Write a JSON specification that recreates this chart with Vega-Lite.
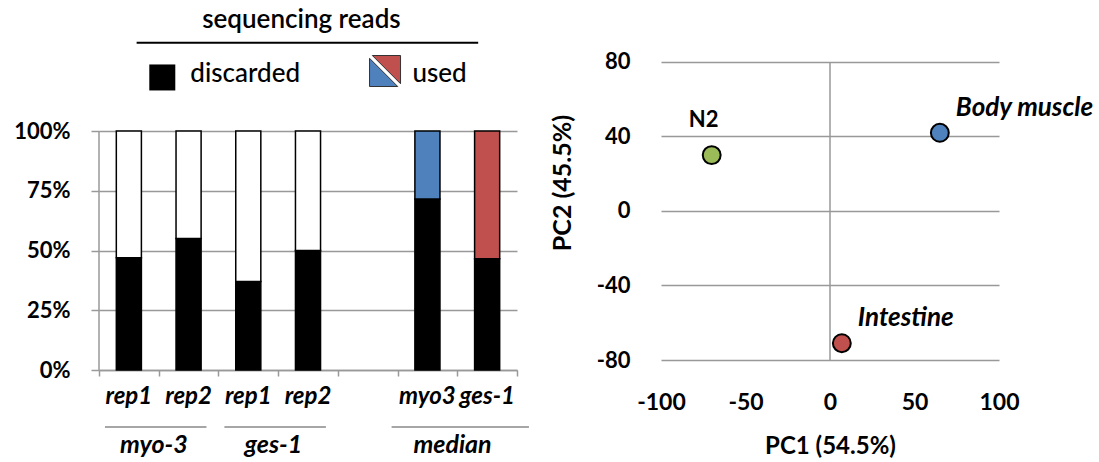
{
  "$schema": "https://vega.github.io/schema/vega-lite/v6.json",
  "autosize": {"type": "pad"},
  "padding": {"left": 13, "top": 5, "right": 0, "bottom": 0},
  "spacing": 20,
  "resolve": {"scale": {"fill": "independent", "x": "independent", "y": "independent"}},
  "config": {
    "font": "Lato",
    "view": {"stroke": null},
    "axis": {"labelColor": "#000000", "titleColor": "#000000", "labelFont": "Lato", "titleFont": "Lato"}
  },
  "datasets": {
    "reads": [
      {"cat": "myo-3|rep1", "part": "discarded", "pct": 0.47},
      {"cat": "myo-3|rep1", "part": "remaining", "pct": 0.53},
      {"cat": "myo-3|rep2", "part": "discarded", "pct": 0.55},
      {"cat": "myo-3|rep2", "part": "remaining", "pct": 0.45},
      {"cat": "ges-1|rep1", "part": "discarded", "pct": 0.37},
      {"cat": "ges-1|rep1", "part": "remaining", "pct": 0.63},
      {"cat": "ges-1|rep2", "part": "discarded", "pct": 0.5},
      {"cat": "ges-1|rep2", "part": "remaining", "pct": 0.5},
      {"cat": "median|myo3", "part": "discarded", "pct": 0.715},
      {"cat": "median|myo3", "part": "used (myo-3)", "pct": 0.285},
      {"cat": "median|ges-1", "part": "discarded", "pct": 0.465},
      {"cat": "median|ges-1", "part": "used (ges-1)", "pct": 0.535}
    ],
    "pca": [
      {"sample": "N2", "pc1": -70, "pc2": 30},
      {"sample": "Body muscle", "pc1": 65, "pc2": 42},
      {"sample": "Intestine", "pc1": 7, "pc2": -71}
    ]
  },
  "hconcat": [
    {
      "width": 418,
      "height": 365,
      "layer": [
        {
          "data": {"name": "reads"},
          "mark": {"type": "bar", "width": {"band": 0.42}, "stroke": "#000000", "strokeWidth": 1.5},
          "encoding": {
            "x": {
              "field": "cat", "type": "nominal", "sort": null, "title": null,
              "scale": {"domain": ["myo-3|rep1", "myo-3|rep2", "ges-1|rep1", "ges-1|rep2", "blank|", "median|myo3", "median|ges-1"], "paddingInner": 0, "paddingOuter": 0},
              "axis": {"title": null, "labels": false, "domainColor": "#999999", "domainWidth": 1.5, "tickColor": "#999999", "tickWidth": 1.5, "tickSize": 6, "tickBand": "extent", "grid": false}
            },
            "y": {
              "field": "pct", "type": "quantitative", "stack": "zero", "title": null,
              "scale": {"domain": [0, 1.5272]},
              "axis": {"title": null, "format": ".0%", "values": [0, 0.25, 0.5, 0.75, 1], "labelFontSize": 22, "labelFontWeight": "bold", "labelPadding": 21, "grid": true, "gridColor": "#999999", "gridWidth": 1.5, "domain": false, "tickColor": "#999999", "tickWidth": 1.5, "tickSize": 8}
            },
            "fill": {"field": "part", "type": "nominal", "scale": {"domain": ["discarded", "remaining", "used (myo-3)", "used (ges-1)"], "range": ["#000000", "#ffffff", "#4F81BD", "#C0504D"]}, "legend": null},
            "order": {"field": "part", "sort": "ascending"}
          }
        },
        {
          "data": {"values": [
            {"cat": "myo-3|rep1", "label": "rep1"},
            {"cat": "myo-3|rep2", "label": "rep2"},
            {"cat": "ges-1|rep1", "label": "rep1"},
            {"cat": "ges-1|rep2", "label": "rep2"},
            {"cat": "median|myo3", "label": "myo3"},
            {"cat": "median|ges-1", "label": "ges-1"}
          ]},
          "mark": {"type": "text", "fontSize": 24, "fontWeight": "bold", "fontStyle": "italic", "align": "center", "baseline": "alphabetic", "color": "#000000"},
          "encoding": {
            "x": {"field": "cat", "type": "nominal", "title": null, "scale": {"domain": ["myo-3|rep1", "myo-3|rep2", "ges-1|rep1", "ges-1|rep2", "blank|", "median|myo3", "median|ges-1"], "paddingInner": 0, "paddingOuter": 0}},
            "y": {"datum": -0.142, "scale": {"domain": [0, 1.5272]}, "title": null},
            "text": {"field": "label"}
          }
        },
        {
          "data": {"values": [{"anchor": "myo-3|rep1"}]},
          "mark": {"type": "rule", "color": "#999999", "strokeWidth": 1.5},
          "encoding": {
            "x": {"field": "anchor", "type": "nominal", "bandPosition": 0, "title": null, "scale": {"domain": ["myo-3|rep1", "myo-3|rep2", "ges-1|rep1", "ges-1|rep2", "blank|", "median|myo3", "median|ges-1"], "paddingInner": 0, "paddingOuter": 0}},
            "y": {"datum": 0, "scale": {"domain": [0, 1.5272]}, "title": null},
            "y2": {"datum": 1}
          }
        },
        {
          "data": {"values": [{"group": "myo-3", "first": "myo-3|rep1", "last": "myo-3|rep2"}, {"group": "ges-1", "first": "ges-1|rep1", "last": "ges-1|rep2"}]},
          "mark": {"type": "rule", "color": "#a6a6a6", "strokeWidth": 2},
          "encoding": {
            "x": {"field": "first", "type": "nominal", "bandPosition": 0.1, "title": null, "scale": {"domain": ["myo-3|rep1", "myo-3|rep2", "ges-1|rep1", "ges-1|rep2", "blank|", "median|myo3", "median|ges-1"], "paddingInner": 0, "paddingOuter": 0}},
            "x2": {"field": "last", "bandPosition": 0.8},
            "y": {"datum": -0.2385, "scale": {"domain": [0, 1.5272]}, "title": null}
          }
        },
        {
          "data": {"values": [{"group": "median", "first": "blank|", "last": "median|ges-1"}]},
          "mark": {"type": "rule", "color": "#a6a6a6", "strokeWidth": 2},
          "encoding": {
            "x": {"field": "first", "type": "nominal", "bandPosition": 0.9, "title": null, "scale": {"domain": ["myo-3|rep1", "myo-3|rep2", "ges-1|rep1", "ges-1|rep2", "blank|", "median|myo3", "median|ges-1"], "paddingInner": 0, "paddingOuter": 0}},
            "x2": {"field": "last", "bandPosition": 1.2},
            "y": {"datum": -0.2385, "scale": {"domain": [0, 1.5272]}, "title": null}
          }
        },
        {
          "data": {"values": [{"group": "myo-3", "first": "myo-3|rep1"}, {"group": "ges-1", "first": "ges-1|rep1"}, {"group": "median", "first": "median|myo3"}]},
          "mark": {"type": "text", "fontSize": 25, "fontWeight": "bold", "fontStyle": "italic", "align": "center", "baseline": "alphabetic", "color": "#000000"},
          "encoding": {
            "x": {"field": "first", "type": "nominal", "bandPosition": 0.92, "title": null, "scale": {"domain": ["myo-3|rep1", "myo-3|rep2", "ges-1|rep1", "ges-1|rep2", "blank|", "median|myo3", "median|ges-1"], "paddingInner": 0, "paddingOuter": 0}},
            "y": {"datum": -0.347, "scale": {"domain": [0, 1.5272]}, "title": null},
            "text": {"field": "group"}
          }
        },
        {
          "data": {"values": [{"label": "sequencing reads", "anchor": "ges-1|rep2"}]},
          "mark": {"type": "text", "fontSize": 26, "fontWeight": 600, "align": "center", "baseline": "alphabetic", "color": "#000000"},
          "encoding": {
            "x": {"field": "anchor", "type": "nominal", "bandPosition": 0.39, "title": null, "scale": {"domain": ["myo-3|rep1", "myo-3|rep2", "ges-1|rep1", "ges-1|rep2", "blank|", "median|myo3", "median|ges-1"], "paddingInner": 0, "paddingOuter": 0}},
            "y": {"datum": 1.431, "scale": {"domain": [0, 1.5272]}, "title": null},
            "text": {"field": "label"}
          }
        },
        {
          "data": {"values": [{"from": "myo-3|rep1", "to": "median|ges-1"}]},
          "mark": {"type": "rule", "color": "#000000", "strokeWidth": 2},
          "encoding": {
            "x": {"field": "from", "type": "nominal", "bandPosition": 0.63, "title": null, "scale": {"domain": ["myo-3|rep1", "myo-3|rep2", "ges-1|rep1", "ges-1|rep2", "blank|", "median|myo3", "median|ges-1"], "paddingInner": 0, "paddingOuter": 0}},
            "x2": {"field": "to", "bandPosition": 0.35},
            "y": {"datum": 1.369, "scale": {"domain": [0, 1.5272]}, "title": null}
          }
        },
        {
          "data": {"values": [{"label": "discarded", "anchor": "myo-3|rep2"}]},
          "mark": {"type": "point", "shape": "square", "size": 676, "filled": true, "color": "#000000", "opacity": 1},
          "encoding": {
            "x": {"field": "anchor", "type": "nominal", "bandPosition": 0.06, "title": null, "scale": {"domain": ["myo-3|rep1", "myo-3|rep2", "ges-1|rep1", "ges-1|rep2", "blank|", "median|myo3", "median|ges-1"], "paddingInner": 0, "paddingOuter": 0}},
            "y": {"datum": 1.224, "scale": {"domain": [0, 1.5272]}, "title": null}
          }
        },
        {
          "data": {"values": [{"label": "discarded", "anchor": "myo-3|rep2"}]},
          "mark": {"type": "text", "fontSize": 26, "fontWeight": 500, "align": "left", "baseline": "alphabetic", "color": "#000000"},
          "encoding": {
            "x": {"field": "anchor", "type": "nominal", "bandPosition": 0.53, "title": null, "scale": {"domain": ["myo-3|rep1", "myo-3|rep2", "ges-1|rep1", "ges-1|rep2", "blank|", "median|myo3", "median|ges-1"], "paddingInner": 0, "paddingOuter": 0}},
            "y": {"datum": 1.206, "scale": {"domain": [0, 1.5272]}, "title": null},
            "text": {"field": "label"}
          }
        },
        {
          "data": {"values": [{"label": "used", "anchor": "blank|"}]},
          "mark": {"type": "point", "shape": "M -0.82 -1 L 1 -1 L 1 0.82 Z", "size": 961, "filled": true, "fill": "#C0504D", "stroke": "#333333", "strokeWidth": 1, "opacity": 1},
          "encoding": {
            "x": {"field": "anchor", "type": "nominal", "bandPosition": 0.79, "title": null, "scale": {"domain": ["myo-3|rep1", "myo-3|rep2", "ges-1|rep1", "ges-1|rep2", "blank|", "median|myo3", "median|ges-1"], "paddingInner": 0, "paddingOuter": 0}},
            "y": {"datum": 1.251, "scale": {"domain": [0, 1.5272]}, "title": null}
          }
        },
        {
          "data": {"values": [{"label": "used", "anchor": "blank|"}]},
          "mark": {"type": "point", "shape": "M -1 -0.82 L -1 1 L 0.82 1 Z", "size": 961, "filled": true, "fill": "#4F81BD", "stroke": "#333333", "strokeWidth": 1, "opacity": 1},
          "encoding": {
            "x": {"field": "anchor", "type": "nominal", "bandPosition": 0.79, "title": null, "scale": {"domain": ["myo-3|rep1", "myo-3|rep2", "ges-1|rep1", "ges-1|rep2", "blank|", "median|myo3", "median|ges-1"], "paddingInner": 0, "paddingOuter": 0}},
            "y": {"datum": 1.251, "scale": {"domain": [0, 1.5272]}, "title": null}
          }
        },
        {
          "data": {"values": [{"label": "used", "anchor": "median|myo3"}]},
          "mark": {"type": "text", "fontSize": 26, "fontWeight": 500, "align": "left", "baseline": "alphabetic", "color": "#000000"},
          "encoding": {
            "x": {"field": "anchor", "type": "nominal", "bandPosition": 0.25, "title": null, "scale": {"domain": ["myo-3|rep1", "myo-3|rep2", "ges-1|rep1", "ges-1|rep2", "blank|", "median|myo3", "median|ges-1"], "paddingInner": 0, "paddingOuter": 0}},
            "y": {"datum": 1.206, "scale": {"domain": [0, 1.5272]}, "title": null},
            "text": {"field": "label"}
          }
        }
      ]
    },
    {
      "width": 338,
      "height": 355,
      "layer": [
        {
          "data": {"values": [{"v": 0}]},
          "mark": {"type": "rule", "color": "#999999", "strokeWidth": 1.5},
          "encoding": {
            "x": {"field": "v", "type": "quantitative", "scale": {"domain": [-100, 100]}, "title": "PC1 (54.5%)"},
            "y": {"datum": -80, "scale": {"domain": [-80, 110.6]}, "title": "PC2 (45.5%)"},
            "y2": {"datum": 80}
          }
        },
        {
          "data": {"name": "pca"},
          "mark": {"type": "point", "filled": true, "size": 320, "stroke": "#000000", "strokeWidth": 2, "opacity": 1},
          "encoding": {
            "x": {
              "field": "pc1", "type": "quantitative", "title": "PC1 (54.5%)",
              "scale": {"domain": [-100, 100]},
              "axis": {"values": [-100, -50, 0, 50, 100], "labelExpr": "'' + datum.value", "labelFlush": false, "grid": false, "domain": false, "ticks": false, "tickSize": 0, "labelPadding": 31, "labelFontSize": 23, "labelFontWeight": "bold", "titleFontSize": 24, "titleFontWeight": "bold", "titlePadding": 20}
            },
            "y": {
              "field": "pc2", "type": "quantitative", "title": "PC2 (45.5%)",
              "scale": {"domain": [-80, 110.6]},
              "axis": {"values": [-80, -40, 0, 40, 80], "labelExpr": "'' + datum.value", "labelFlush": false, "grid": true, "gridColor": "#999999", "gridWidth": 1.5, "domain": false, "ticks": false, "tickSize": 0, "labelPadding": 31, "labelFontSize": 22, "labelFontWeight": "bold", "titleFontSize": 25, "titleFontWeight": "bold", "titlePadding": 21}
            },
            "fill": {"field": "sample", "type": "nominal", "scale": {"domain": ["N2", "Body muscle", "Intestine"], "range": ["#9BBB59", "#4F81BD", "#C0504D"]}, "legend": null}
          }
        },
        {
          "data": {"name": "pca"},
          "transform": [{"filter": "datum.sample === 'N2'"}],
          "mark": {"type": "text", "fontSize": 22, "fontWeight": "bold", "align": "center", "baseline": "alphabetic", "dx": -8, "dy": -28, "color": "#000000"},
          "encoding": {
            "x": {"field": "pc1", "type": "quantitative", "scale": {"domain": [-100, 100]}, "title": "PC1 (54.5%)"},
            "y": {"field": "pc2", "type": "quantitative", "scale": {"domain": [-80, 110.6]}, "title": "PC2 (45.5%)"},
            "text": {"field": "sample"}
          }
        },
        {
          "data": {"name": "pca"},
          "transform": [{"filter": "datum.sample !== 'N2'"}],
          "mark": {"type": "text", "fontSize": 26, "fontWeight": "bold", "fontStyle": "italic", "align": "left", "baseline": "alphabetic", "dx": 16, "dy": -17, "color": "#000000"},
          "encoding": {
            "x": {"field": "pc1", "type": "quantitative", "scale": {"domain": [-100, 100]}, "title": "PC1 (54.5%)"},
            "y": {"field": "pc2", "type": "quantitative", "scale": {"domain": [-80, 110.6]}, "title": "PC2 (45.5%)"},
            "text": {"field": "sample"}
          }
        }
      ]
    }
  ]
}
